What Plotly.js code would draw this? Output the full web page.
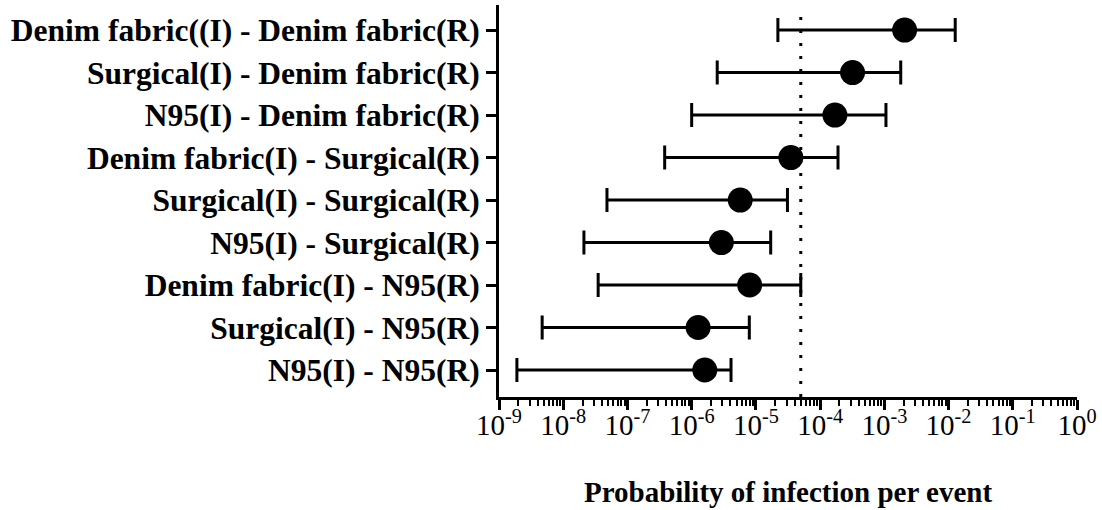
<!DOCTYPE html>
<html>
<head>
<meta charset="utf-8">
<script src="https://cdn.plot.ly/plotly-3.0.1.min.js"></script>
<style>html,body{margin:0;padding:0;background:#fff;}#chart{width:1102px;height:510px;}</style>
</head>
<body>
<div id="chart"></div>
<script>
const categories = [
  "Denim fabric((I) - Denim fabric(R)",
  "Surgical(I) - Denim fabric(R)",
  "N95(I) - Denim fabric(R)",
  "Denim fabric(I) - Surgical(R)",
  "Surgical(I) - Surgical(R)",
  "N95(I) - Surgical(R)",
  "Denim fabric(I) - N95(R)",
  "Surgical(I) - N95(R)",
  "N95(I) - N95(R)"
];
const estimates = [2.07e-3, 3.2e-4, 1.7e-4, 3.5e-5, 5.7e-6, 2.9e-6, 8.0e-6, 1.26e-6, 1.6e-6];
const lowerCI  = [2.2e-5, 2.5e-6, 1.0e-6, 3.8e-7, 4.8e-8, 2.1e-8, 3.5e-8, 4.7e-9, 1.9e-9];
const upperCI  = [1.27e-2, 1.8e-3, 1.06e-3, 1.9e-4, 3.1e-5, 1.7e-5, 5.0e-5, 7.9e-6, 4.1e-6];
const threshold = 5e-5;
const xTickVals = [1e-9, 1e-8, 1e-7, 1e-6, 1e-5, 1e-4, 1e-3, 1e-2, 1e-1, 1];
const xTickText = ["10<sup>-9</sup>","10<sup>-8</sup>","10<sup>-7</sup>","10<sup>-6</sup>","10<sup>-5</sup>","10<sup>-4</sup>","10<sup>-3</sup>","10<sup>-2</sup>","10<sup>-1</sup>","10<sup>0</sup>"];
const xTitle = "Probability of infection per event";

const trace = {
  type: 'scatter',
  mode: 'markers',
  x: estimates,
  y: categories,
  marker: {color: 'black', size: 25, symbol: 'circle'},
  error_x: {
    type: 'data',
    symmetric: false,
    array: estimates.map((v, i) => upperCI[i] - v),
    arrayminus: estimates.map((v, i) => v - lowerCI[i]),
    color: 'black',
    thickness: 3,
    width: 12
  },
  cliponaxis: false,
  hoverinfo: 'skip'
};

const layout = {
  width: 1102,
  height: 510,
  margin: {l: 499, r: 25, t: 5, b: 113},
  paper_bgcolor: 'white',
  plot_bgcolor: 'white',
  showlegend: false,
  font: {family: '"Liberation Serif", "Times New Roman", serif', color: 'black'},
  xaxis: {
    type: 'log',
    range: [-9, 0],
    tickmode: 'array',
    tickvals: xTickVals,
    ticktext: xTickText,
    ticks: 'outside',
    ticklen: 10,
    tickwidth: 3,
    tickcolor: 'black',
    minor: {ticks: 'outside', ticklen: 6, tickwidth: 2, tickcolor: 'black', dtick: 'D1', showgrid: false},
    showline: true,
    linewidth: 3,
    linecolor: 'black',
    showgrid: false,
    zeroline: false,
    ticklabelstandoff: -10,
    tickfont: {size: 29, family: '"Liberation Serif", serif'},
    title: {text: '<b>' + xTitle + '</b>', font: {size: 29, family: '"Liberation Serif", serif'}, standoff: 42}
  },
  yaxis: {
    type: 'category',
    categoryorder: 'array',
    categoryarray: categories,
    range: [8.635, -0.59],
    ticks: 'outside',
    ticklen: 10,
    tickwidth: 3,
    tickcolor: 'black',
    showline: true,
    linewidth: 3,
    linecolor: 'black',
    showgrid: false,
    zeroline: false,
    tickfont: {size: 31.5, family: '"Liberation Serif", serif', weight: 'bold'},
    ticklabelstandoff: 0
  },
  shapes: [{
    type: 'line',
    xref: 'x', yref: 'paper',
    x0: threshold, x1: threshold, y0: 0, y1: 0.99,
    line: {color: 'black', width: 3, dash: '3px,10px'}
  }]
};

Plotly.newPlot('chart', [trace], layout, {displayModeBar: false, staticPlot: true});
</script>
</body>
</html>
